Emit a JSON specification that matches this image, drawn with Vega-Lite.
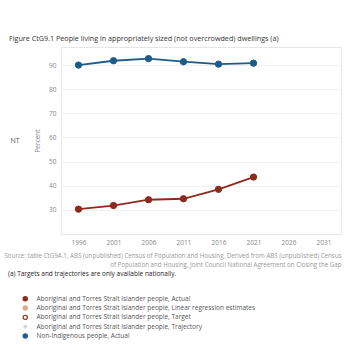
{
  "$schema": "https://vega.github.io/schema/vega-lite/v6.json",
  "padding": {"left": 3, "top": 35, "right": 2, "bottom": 5},
  "background": "white",
  "title": {"text": "Figure CtG9.1 People living in appropriately sized (not overcrowded) dwellings (a)", "anchor": "start", "frame": "bounds", "fontSize": 7.2, "fontWeight": "normal", "font": "Open Sans", "color": "#333333", "offset": 4, "dx": 5},
  "data": {"values": [
    {"state": "NT", "year": 1996, "value": 90.0, "series": "Non-Indigenous people, Actual"},
    {"state": "NT", "year": 2001, "value": 91.8, "series": "Non-Indigenous people, Actual"},
    {"state": "NT", "year": 2006, "value": 92.7, "series": "Non-Indigenous people, Actual"},
    {"state": "NT", "year": 2011, "value": 91.4, "series": "Non-Indigenous people, Actual"},
    {"state": "NT", "year": 2016, "value": 90.4, "series": "Non-Indigenous people, Actual"},
    {"state": "NT", "year": 2021, "value": 90.8, "series": "Non-Indigenous people, Actual"},
    {"state": "NT", "year": 1996, "value": 30.3, "series": "Aboriginal and Torres Strait Islander people, Actual"},
    {"state": "NT", "year": 2001, "value": 31.8, "series": "Aboriginal and Torres Strait Islander people, Actual"},
    {"state": "NT", "year": 2006, "value": 34.2, "series": "Aboriginal and Torres Strait Islander people, Actual"},
    {"state": "NT", "year": 2011, "value": 34.6, "series": "Aboriginal and Torres Strait Islander people, Actual"},
    {"state": "NT", "year": 2016, "value": 38.5, "series": "Aboriginal and Torres Strait Islander people, Actual"},
    {"state": "NT", "year": 2021, "value": 43.6, "series": "Aboriginal and Torres Strait Islander people, Actual"}
  ]},
  "facet": {"row": {"field": "state", "type": "nominal", "header": {"title": null, "labelAngle": 0, "labelOrient": "left", "labelAlign": "left", "labelFontSize": 7, "labelFont": "Open Sans", "labelColor": "#555555", "labelPadding": 15}}},
  "spec": {
    "width": 280,
    "height": 187,
    "encoding": {
      "x": {"field": "year", "type": "quantitative", "scale": {"domain": [1993.5, 2033.5], "nice": false, "zero": false},
            "axis": {"values": [1996, 2001, 2006, 2011, 2016, 2021, 2026, 2031], "format": "d", "grid": false, "ticks": false, "domain": false, "labelOverlap": false, "labelFontSize": 6.5, "labelColor": "#888888", "labelFont": "Open Sans", "labelPadding": 4,
              "title": ["Source: table CtG9A.1, ABS (unpublished) Census of Population and Housing, Derived from ABS (unpublished) Census", "of Population and Housing, Joint Council National Agreement on Closing the Gap"],
              "titleAnchor": "end", "titleAlign": "right", "titleFontSize": 6.2, "titleFontWeight": "normal", "titleColor": "#999999", "titleFont": "Open Sans", "titlePadding": 7, "titleLineHeight": 8.7}},
      "y": {"field": "value", "type": "quantitative", "scale": {"domain": [20, 97.5], "nice": false, "zero": false},
            "axis": {"values": [30, 40, 50, 60, 70, 80, 90], "labelOverlap": false, "title": "Percent", "titleFontSize": 6.5, "titleFontWeight": "normal", "titleColor": "#888888", "titleFont": "Open Sans", "titlePadding": 8, "ticks": false, "domain": false, "labelFontSize": 6.5, "labelColor": "#888888", "labelFont": "Open Sans", "labelPadding": 4, "gridColor": "#f0f0f0", "gridWidth": 1}},
      "stroke": {"field": "series", "type": "nominal",
                "scale": {"domain": ["Aboriginal and Torres Strait Islander people, Actual", "Aboriginal and Torres Strait Islander people, Linear regression estimates", "Aboriginal and Torres Strait Islander people, Target", "Aboriginal and Torres Strait Islander people, Trajectory", "Non-Indigenous people, Actual"],
                          "range": ["#8c2a1d", "#e0a68c", "#8c2a1d", "#c8c8c8", "#1d5c89"]},
                "legend": {"title": "(a) Targets and trajectories are only available nationally.", "orient": "none", "legendX": -53, "legendY": 224, "direction": "vertical", "titleFontSize": 6.5, "titleFontWeight": "normal", "titleColor": "#222222", "titleFont": "Open Sans", "titlePadding": 18, "labelFontSize": 6.5, "labelColor": "#555555", "labelFont": "Open Sans", "labelOffset": 8, "labelLimit": 400, "symbolSize": 18, "symbolStrokeWidth": 1.2, "rowPadding": -0.7, "symbolOffset": 14}}
    },
    "layer": [
      {
        "mark": {"type": "line", "strokeWidth": 1.8},
        "encoding": {
          "detail": {"field": "series"}
        }
      },
      {
        "mark": {"type": "point", "size": 40, "opacity": 1, "strokeWidth": 1},
        "encoding": {
          "fill": {"field": "series", "type": "nominal",
                    "scale": {"domain": ["Aboriginal and Torres Strait Islander people, Actual", "Aboriginal and Torres Strait Islander people, Linear regression estimates", "Aboriginal and Torres Strait Islander people, Target", "Aboriginal and Torres Strait Islander people, Trajectory", "Non-Indigenous people, Actual"],
                              "range": ["#8c2a1d", "#e0a68c", "#ffffff", "transparent", "#1d5c89"]}},
          "shape": {"field": "series", "type": "nominal",
                    "scale": {"domain": ["Aboriginal and Torres Strait Islander people, Actual", "Aboriginal and Torres Strait Islander people, Linear regression estimates", "Aboriginal and Torres Strait Islander people, Target", "Aboriginal and Torres Strait Islander people, Trajectory", "Non-Indigenous people, Actual"],
                              "range": ["circle", "circle", "circle", "M-1,0L1,0M0,-1L0,1", "circle"]}}
        }
      }
    ]
  },
  "config": {
    "view": {"stroke": "#e6e6e6", "strokeWidth": 1},
    "facet": {"spacing": 0},
    "axis": {"labelOverlap": false}
  }
}
